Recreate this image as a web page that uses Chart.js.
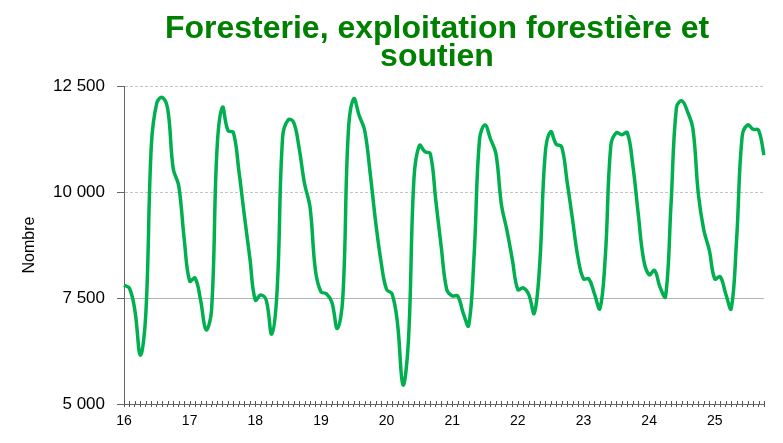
<!DOCTYPE html>
<html><head><meta charset="utf-8">
<script src="https://cdn.jsdelivr.net/npm/chart.js@4.4.1/dist/chart.umd.min.js"></script>
<style>html,body{margin:0;padding:0;background:#fff}#wrap{width:783px;height:443px}</style>
</head><body><div id="wrap"><canvas id="c" width="783" height="443"></canvas></div>
<script>
const titleLines = ['Foresterie, exploitation forestière et', 'soutien'];
const yAxisTitle = 'Nombre';
const yearLabels = ['16','17','18','19','20','21','22','23','24','25'];
const yTicks = [5000, 7500, 10000, 12500];

// monthly values, Jan..Dec
const v2016 = [7800, 7730, 7200, 6150, 7150, 11100, 12100, 12230, 11950, 10550, 10150, 8900];
const v2017 = [7900, 7970, 7450, 6750, 7200, 11000, 12000, 11450, 11400, 10500, 9450, 8450];
const v2018 = [7450, 7570, 7450, 6650, 7700, 11300, 11700, 11650, 11050, 10200, 9650, 8150];
const v2019 = [7650, 7600, 7400, 6780, 7500, 11400, 12200, 11800, 11450, 10450, 9300, 8350];
const v2020 = [7700, 7600, 6900, 5450, 6500, 10300, 11100, 10950, 10900, 9800, 8700, 7700];
const v2021 = [7550, 7550, 7150, 6850, 8500, 11250, 11580, 11250, 10900, 9700, 9100, 8400];
const v2022 = [7700, 7740, 7580, 7140, 8300, 10900, 11420, 11130, 11070, 10250, 9350, 8450];
const v2023 = [7950, 7950, 7600, 7250, 8500, 11100, 11400, 11350, 11400, 10650, 9500, 8400];
const v2024 = [8050, 8150, 7750, 7530, 9700, 12000, 12150, 11900, 11500, 9950, 9100, 8630];
const v2025 = [7950, 8000, 7600, 7250, 8900, 11300, 11580, 11480, 11460, 10870];

const series = [].concat(v2016, v2017, v2018, v2019, v2020, v2021, v2022, v2023, v2024, v2025);
const categories = [];
yearLabels.forEach(y => { for (let m = 1; m <= 12; m++) categories.push(y + '-' + m); });
categories.length = series.length;

const fmt = v => String(v).replace(/\B(?=(\d{3})+(?!\d))/g, ' ');
const FONT = '"Liberation Sans", Arial, sans-serif';

const titlePlugin = {
  id: 'titleText',
  afterDraw(chart) {
    const ctx = chart.ctx;
    ctx.save();
    ctx.font = 'bold 32px ' + FONT;
    ctx.fillStyle = '#008000';
    ctx.textAlign = 'center';
    ctx.textBaseline = 'alphabetic';
    titleLines.forEach((t, i) => ctx.fillText(t, 437, 38 + i * 28));
    ctx.restore();
  }
};
const crossTicks = {
  id: 'crossTicks',
  afterDraw(chart) {
    const xs = chart.scales.x, ctx = chart.ctx;
    ctx.save();
    ctx.strokeStyle = '#555'; ctx.lineWidth = 1;
    ctx.beginPath();
    xs.ticks.forEach((t, i) => {
      const x = Math.round(xs.getPixelForTick(i)) + 0.5;
      ctx.moveTo(x, xs.top - 3); ctx.lineTo(x, xs.top);
    });
    ctx.stroke();
    ctx.restore();
  }
};

new Chart(document.getElementById('c'), {
  type: 'line',
  data: {
    labels: categories,
    datasets: [{
      data: series,
      borderColor: '#00b050',
      borderWidth: 3.5,
      pointRadius: 0,
      tension: 0.4,
      fill: false
    }]
  },
  options: {
    responsive: false,
    animation: false,
    devicePixelRatio: 1,
    layout: { padding: { top: 86, right: 19, bottom: 0, left: 0 } },
    plugins: { legend: { display: false }, tooltip: { enabled: false }, title: { display: false } },
    scales: {
      x: {
        type: 'category',
        afterFit: s => { s.height = 39; },
        ticks: {
          autoSkip: false, maxRotation: 0, minRotation: 0,
          padding: 6,
          color: '#000',
          font: { family: FONT, size: 14 },
          callback: (v, i) => (i % 12 === 0 ? yearLabels[i / 12] : '')
        },
        grid: { drawOnChartArea: false, drawTicks: true, tickLength: 3, tickColor: '#555' },
        border: { color: '#666', width: 1 }
      },
      y: {
        min: 5000, max: 12500,
        afterFit: s => { s.width = 124; },
        afterBuildTicks: s => { s.ticks = yTicks.map(v => ({ value: v })); },
        ticks: {
          color: '#000', padding: 12,
          font: { family: FONT, size: 17 },
          callback: v => fmt(v)
        },
        title: {
          display: true, text: yAxisTitle, color: '#000',
          font: { family: FONT, size: 16 },
          padding: { top: 20, bottom: 0 }
        },
        grid: {
          color: c => c.tick.value === 7500 ? '#b4b4b4' : (c.tick.value === 5000 ? 'rgba(0,0,0,0)' : '#c4c4c4'),
          tickLength: 7, tickColor: '#666'
        },
        border: { color: '#666', width: 1, dash: c => (c.tick && c.tick.value === 7500 ? [] : [3, 2]) }
      }
    }
  },
  plugins: [titlePlugin, crossTicks]
});
</script>
</body></html>
